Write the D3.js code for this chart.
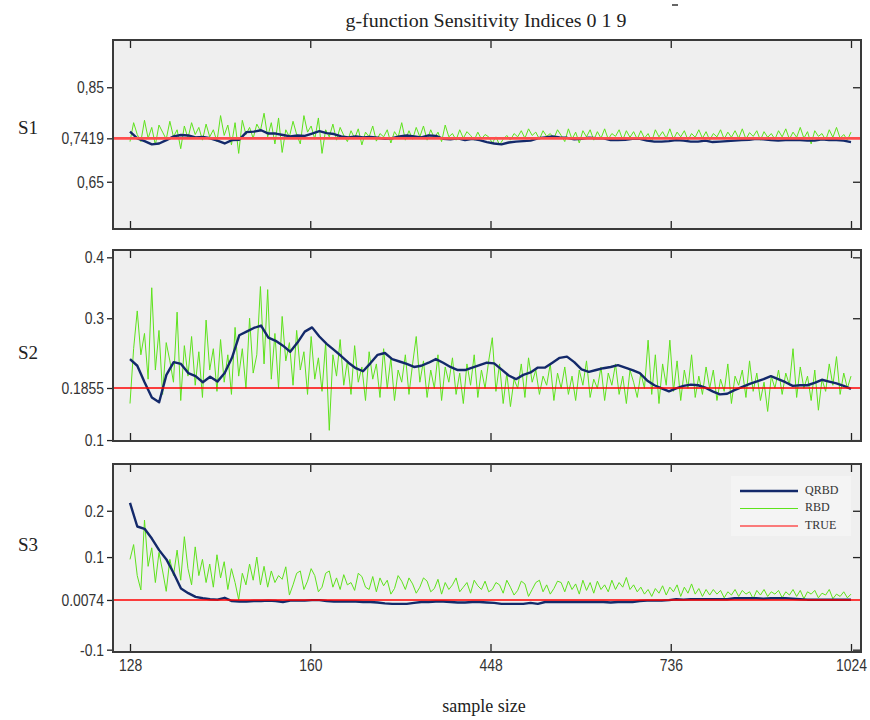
<!DOCTYPE html>
<html><head><meta charset="utf-8">
<script src="https://cdn.jsdelivr.net/npm/d3@7"></script>
<style>body{margin:0;background:#fff}</style>
</head><body>
<svg id="c" width="870" height="720"></svg>
<script>
const title = "g-function Sensitivity Indices 0 1 9";
const xTickLabels = ["128","160","448","736","1024"];
const seriesNames = ["QRBD","RBD","TRUE"];
const panelNames = ["S1","S2","S3"];
const trueValues = [0.7419, 0.1855, 0.0074];
const yTicks1 = [0.85, 0.7419, 0.65];
const yTickLabels1 = ["0,85","0,7419","0,65"];
const yTicks2 = [0.4, 0.3, 0.1855, 0.1];
const yTickLabels2 = ["0.4","0.3","0.1855","0.1"];
const yTicks3 = [0.2, 0.1, 0.0074, -0.1];
const yTickLabels3 = ["0.2","0.1","0.0074","-0.1"];

const qrbdS1 = [0.756,0.742,0.736,0.729,0.731,0.738,0.746,0.749,0.748,0.744,0.745,0.742,0.737,0.731,0.738,0.739,0.755,0.756,0.759,0.752,
0.752,0.749,0.746,0.748,0.747,0.752,0.757,0.753,0.751,0.746,0.744,0.746,0.744,0.745,0.743,0.741,0.742,0.746,0.748,0.746,
0.744,0.748,0.747,0.741,0.740,0.742,0.738,0.741,0.738,0.734,0.731,0.729,0.733,0.735,0.736,0.737,0.742,0.744,0.746,0.744,
0.743,0.740,0.741,0.743,0.742,0.742,0.738,0.738,0.739,0.741,0.741,0.737,0.735,0.735,0.736,0.738,0.737,0.735,0.735,0.737,
0.734,0.735,0.736,0.737,0.738,0.739,0.741,0.740,0.738,0.737,0.738,0.739,0.738,0.737,0.737,0.740,0.738,0.738,0.737,0.734];
const rbdS1 = [0.735,0.775,0.750,0.735,0.780,0.742,0.765,0.728,0.770,0.755,0.740,0.778,0.745,0.760,0.720,0.768,0.742,0.775,0.750,0.765,
0.738,0.772,0.745,0.760,0.735,0.790,0.748,0.770,0.728,0.775,0.710,0.780,0.750,0.765,0.742,0.772,0.758,0.795,0.745,0.775,
0.730,0.785,0.712,0.760,0.745,0.778,0.750,0.730,0.790,0.755,0.768,0.740,0.785,0.710,0.760,0.745,0.772,0.738,0.765,0.748,
0.735,0.758,0.742,0.762,0.728,0.755,0.745,0.768,0.736,0.752,0.745,0.760,0.732,0.756,0.744,0.775,0.738,0.758,0.740,0.765,
0.745,0.768,0.738,0.760,0.742,0.755,0.735,0.770,0.745,0.752,0.738,0.760,0.742,0.756,0.748,0.738,0.755,0.740,0.750,0.745,
0.732,0.745,0.728,0.740,0.748,0.738,0.752,0.745,0.758,0.742,0.762,0.748,0.755,0.740,0.758,0.746,0.752,0.742,0.760,0.748,
0.735,0.762,0.740,0.755,0.732,0.758,0.745,0.760,0.738,0.756,0.742,0.762,0.740,0.752,0.746,0.760,0.738,0.758,0.744,0.756,
0.740,0.758,0.742,0.752,0.735,0.760,0.745,0.756,0.742,0.762,0.740,0.755,0.745,0.758,0.738,0.752,0.744,0.760,0.742,0.756,
0.738,0.752,0.745,0.760,0.740,0.755,0.744,0.758,0.742,0.762,0.740,0.754,0.746,0.758,0.738,0.756,0.744,0.752,0.740,0.758,
0.745,0.762,0.740,0.755,0.744,0.765,0.742,0.756,0.730,0.758,0.746,0.752,0.738,0.760,0.744,0.765,0.742,0.750,0.738,0.755];

const qrbdS2 = [0.233,0.222,0.195,0.170,0.162,0.207,0.228,0.225,0.210,0.205,0.195,0.204,0.196,0.210,0.235,0.272,0.278,0.284,0.288,0.268,
0.263,0.255,0.245,0.260,0.278,0.285,0.270,0.258,0.248,0.238,0.227,0.218,0.213,0.226,0.240,0.243,0.233,0.229,0.225,0.220,
0.222,0.227,0.233,0.227,0.220,0.215,0.215,0.219,0.223,0.227,0.226,0.216,0.206,0.200,0.207,0.211,0.219,0.219,0.227,0.235,
0.237,0.228,0.216,0.212,0.215,0.218,0.220,0.223,0.219,0.215,0.210,0.198,0.190,0.185,0.180,0.185,0.189,0.191,0.190,0.186,
0.180,0.175,0.176,0.182,0.187,0.192,0.196,0.200,0.205,0.200,0.195,0.189,0.190,0.190,0.194,0.199,0.196,0.193,0.189,0.184];
const rbdS2 = [0.160,0.250,0.312,0.240,0.275,0.200,0.350,0.215,0.280,0.175,0.260,0.230,0.195,0.310,0.165,0.255,0.205,0.270,0.190,0.245,
0.170,0.297,0.215,0.250,0.180,0.265,0.195,0.240,0.175,0.285,0.205,0.250,0.185,0.300,0.210,0.240,0.352,0.225,0.347,0.200,
0.275,0.185,0.303,0.230,0.260,0.190,0.280,0.215,0.245,0.175,0.270,0.200,0.235,0.180,0.260,0.116,0.240,0.205,0.265,0.190,
0.230,0.175,0.255,0.195,0.220,0.165,0.245,0.200,0.225,0.170,0.250,0.185,0.235,0.165,0.215,0.195,0.240,0.175,0.225,0.270,
0.195,0.230,0.170,0.215,0.185,0.240,0.165,0.220,0.195,0.235,0.175,0.210,0.160,0.225,0.190,0.240,0.170,0.215,0.185,0.230,
0.268,0.180,0.225,0.160,0.210,0.155,0.200,0.185,0.225,0.170,0.235,0.195,0.215,0.175,0.205,0.190,0.225,0.165,0.210,0.185,
0.220,0.175,0.205,0.165,0.215,0.190,0.230,0.170,0.200,0.185,0.220,0.165,0.210,0.190,0.225,0.175,0.205,0.160,0.215,0.195,
0.170,0.210,0.185,0.264,0.175,0.240,0.160,0.225,0.190,0.264,0.180,0.230,0.165,0.215,0.185,0.240,0.170,0.205,0.175,0.220,
0.185,0.215,0.165,0.200,0.180,0.225,0.160,0.205,0.190,0.215,0.170,0.230,0.180,0.210,0.165,0.195,0.147,0.205,0.185,0.215,
0.175,0.210,0.190,0.250,0.170,0.220,0.185,0.205,0.165,0.215,0.149,0.200,0.180,0.225,0.190,0.237,0.175,0.210,0.185,0.205];

const qrbdS3 = [0.217,0.166,0.161,0.140,0.115,0.095,0.065,0.032,0.022,0.014,0.011,0.009,0.008,0.012,0.005,0.004,0.004,0.005,0.005,0.006,
0.005,0.003,0.006,0.006,0.006,0.007,0.007,0.005,0.004,0.004,0.004,0.004,0.003,0.003,0.002,0.000,-0.001,-0.001,-0.001,0.001,
0.003,0.003,0.004,0.004,0.003,0.002,0.002,0.003,0.003,0.002,0.001,-0.001,-0.001,-0.001,-0.001,0.001,-0.001,0.003,0.003,0.003,
0.003,0.003,0.003,0.003,0.003,0.003,0.002,0.003,0.003,0.003,0.005,0.006,0.006,0.006,0.007,0.009,0.008,0.009,0.009,0.009,
0.009,0.009,0.009,0.011,0.011,0.011,0.011,0.010,0.011,0.011,0.011,0.010,0.009,0.008,0.008,0.008,0.008,0.008,0.008,0.008];
const rbdS3 = [0.095,0.127,0.060,0.029,0.180,0.080,0.120,0.045,0.110,0.070,0.026,0.095,0.060,0.115,0.050,0.144,0.075,0.040,0.122,0.060,
0.095,0.045,0.085,0.035,0.105,0.055,0.090,0.030,0.075,0.045,0.008,0.065,0.040,0.085,0.050,0.100,0.040,0.080,0.035,0.070,
0.045,0.060,0.052,0.079,0.018,0.040,0.065,0.070,0.030,0.048,0.075,0.060,0.025,0.035,0.065,0.070,0.035,0.055,0.030,0.062,
0.040,0.045,0.028,0.065,0.058,0.035,0.030,0.058,0.025,0.055,0.038,0.050,0.020,0.032,0.060,0.048,0.030,0.055,0.042,0.022,
0.035,0.055,0.048,0.025,0.032,0.052,0.020,0.045,0.030,0.040,0.055,0.025,0.035,0.045,0.022,0.050,0.038,0.030,0.048,0.025,
0.030,0.045,0.040,0.022,0.050,0.035,0.018,0.028,0.048,0.042,0.015,0.030,0.045,0.050,0.025,0.040,0.020,0.032,0.048,0.045,
0.025,0.048,0.030,0.042,0.020,0.050,0.028,0.045,0.022,0.048,0.030,0.040,0.025,0.050,0.030,0.045,0.035,0.056,0.030,0.040,
0.025,0.035,0.020,0.030,0.015,0.032,0.022,0.038,0.018,0.035,0.025,0.040,0.015,0.035,0.022,0.042,0.020,0.032,0.015,0.030,
0.018,0.030,0.020,0.028,0.012,0.025,0.018,0.030,0.015,0.028,0.020,0.025,0.010,0.028,0.018,0.030,0.015,0.025,0.020,0.028,
0.012,0.025,0.018,0.030,0.015,0.028,0.010,0.025,0.020,0.028,0.012,0.022,0.018,0.030,0.010,0.020,0.015,0.025,0.012,0.020];

const svg = d3.select("#c");
const L = 113, R = 861, X0 = 130, X1 = 851;
const panels = [
  {name: panelNames[0], top: 40, bottom: 229, domain: [0.55, 0.95], ticks: yTicks1, labels: yTickLabels1, q: qrbdS1, r: rbdS1, t: trueValues[0], red: "#ff4d4d", rw: 2.6, lo: 4.5},
  {name: panelNames[1], top: 250, bottom: 441, domain: [0.0985, 0.412], ticks: yTicks2, labels: yTickLabels2, q: qrbdS2, r: rbdS2, t: trueValues[1], red: "#ff0000", rw: 1.5, lo: -9.5},
  {name: panelNames[2], top: 464, bottom: 652, domain: [-0.105, 0.301], ticks: yTicks3, labels: yTickLabels3, q: qrbdS3, r: rbdS3, t: trueValues[2], red: "#ff0000", rw: 1.5, lo: 11}
];
const tickFont = "'Liberation Sans',Arial,sans-serif";
const serif = "'Liberation Serif','Times New Roman',serif";
const SX = 0.82;

svg.append("text").attr("x", 486).attr("y", 27).attr("text-anchor","middle")
  .attr("font-family", serif).attr("font-size", 19).attr("fill","#222")
  .attr("textLength", 281).attr("lengthAdjust","spacingAndGlyphs").text(title);
svg.append("line").attr("x1",672).attr("x2",678).attr("y1",5).attr("y2",5).attr("stroke","#333").attr("stroke-width",1.5);

const xPos = d3.scaleLinear().domain([0, xTickLabels.length-1]).range([X0, X1]);

panels.forEach((p, pi) => {
  const g = svg.append("g");
  const y = d3.scaleLinear().domain(p.domain).range([p.bottom, p.top]);
  g.append("rect").attr("x", L).attr("y", p.top).attr("width", R-L).attr("height", p.bottom-p.top)
    .attr("fill", "#efefef");
  const clip = "clip"+pi;
  svg.append("clipPath").attr("id", clip).append("rect").attr("x", L).attr("y", p.top).attr("width", R-L).attr("height", p.bottom-p.top);
  const xr = d3.scaleLinear().domain([0, p.r.length-1]).range([X0, X1]);
  const xq = d3.scaleLinear().domain([0, p.q.length-1]).range([X0, X1]);
  const lineR = d3.line().x((d,i)=>xr(i)).y(d=>y(d));
  const lineQ = d3.line().x((d,i)=>xq(i)).y(d=>y(d));
  const inner = g.append("g").attr("clip-path", `url(#${clip})`);
  inner.append("path").attr("d", lineR(p.r)).attr("fill","none").attr("stroke","#5ee21c").attr("stroke-width",1);
  inner.append("path").attr("d", lineQ(p.q)).attr("fill","none").attr("stroke","#13296a").attr("stroke-width",2.4).attr("stroke-linejoin","round");
  inner.append("line").attr("x1", L).attr("x2", R).attr("y1", y(p.t)).attr("y2", y(p.t)).attr("stroke", p.red).attr("stroke-width", p.rw);

  const yAxis = d3.axisLeft(y).tickValues(p.ticks).tickFormat((d,i)=>p.labels[i]).tickSize(6).tickPadding(3);
  const ya = g.append("g").attr("transform", `translate(${L},0)`).call(yAxis);
  ya.select(".domain").remove();
  ya.selectAll("line").attr("stroke","#222").attr("stroke-width",1.3);
  ya.selectAll("text").attr("font-family", tickFont).attr("font-size", 17).attr("fill","#333")
    .attr("x", -9/SX).attr("transform", `scale(${SX},1)`);
  const yr = g.append("g").attr("transform", `translate(${R},0)`).call(d3.axisLeft(y).tickValues(p.ticks.filter(v=>v!==p.t)).tickSize(8).tickFormat(""));
  yr.select(".domain").remove();
  yr.selectAll("line").attr("stroke","#222").attr("stroke-width",1.3);
  const xt = g.append("g").attr("transform", `translate(0,${p.top})`).call(d3.axisBottom(xPos).tickValues(d3.range(xTickLabels.length)).tickSize(8).tickFormat(""));
  xt.select(".domain").remove();
  xt.selectAll("line").attr("stroke","#222").attr("stroke-width",1.3);
  const xb = g.append("g").attr("transform", `translate(0,${p.bottom})`).call(d3.axisTop(xPos).tickValues(d3.range(xTickLabels.length)).tickSize(8).tickFormat(""));
  xb.select(".domain").remove();
  xb.selectAll("line").attr("stroke","#222").attr("stroke-width",1.3);
  if (pi === 2) {
    const xl = g.append("g").attr("transform", `translate(0,${p.bottom})`)
      .call(d3.axisBottom(xPos).tickValues(d3.range(xTickLabels.length)).tickSize(0).tickPadding(7).tickFormat(i=>xTickLabels[i]));
    xl.select(".domain").remove();
    xl.selectAll("text").attr("font-family", tickFont).attr("font-size", 17).attr("fill","#333")
      .attr("transform", `scale(${SX},1)`);
  }
  g.append("rect").attr("x", L).attr("y", p.top).attr("width", R-L).attr("height", p.bottom-p.top)
    .attr("fill","none").attr("stroke","#3a3a3a").attr("stroke-width",2);
  g.append("text").attr("x", 28).attr("y", (p.top+p.bottom)/2 - p.lo).attr("text-anchor","middle")
    .attr("dominant-baseline","middle").attr("font-family", serif).attr("font-size", 19).attr("fill","#222").text(p.name);
});

const lg = svg.append("g");
lg.append("rect").attr("x", 731).attr("y", 476).attr("width", 120).attr("height", 60).attr("fill","#f4f4f4");
const legendColors = ["#13296a","#5ee21c","#ff0000"];
const legendWidths = [2.6, 1.2, 1.2];
const ly = d3.scalePoint().domain(seriesNames).range([491, 526]);
seriesNames.forEach((n,i)=>{
  lg.append("line").attr("x1",740).attr("x2",798).attr("y1",ly(n)).attr("y2",ly(n)).attr("stroke",legendColors[i]).attr("stroke-width",legendWidths[i]);
  lg.append("text").attr("x",805).attr("y",ly(n)).attr("dominant-baseline","middle").attr("font-family",serif).attr("font-size",12).attr("fill","#333").text(n);
});

svg.append("text").attr("x", 484).attr("y", 712).attr("text-anchor","middle")
  .attr("font-family", serif).attr("font-size", 18).attr("fill","#222").text("sample size");
</script>
</body></html>
